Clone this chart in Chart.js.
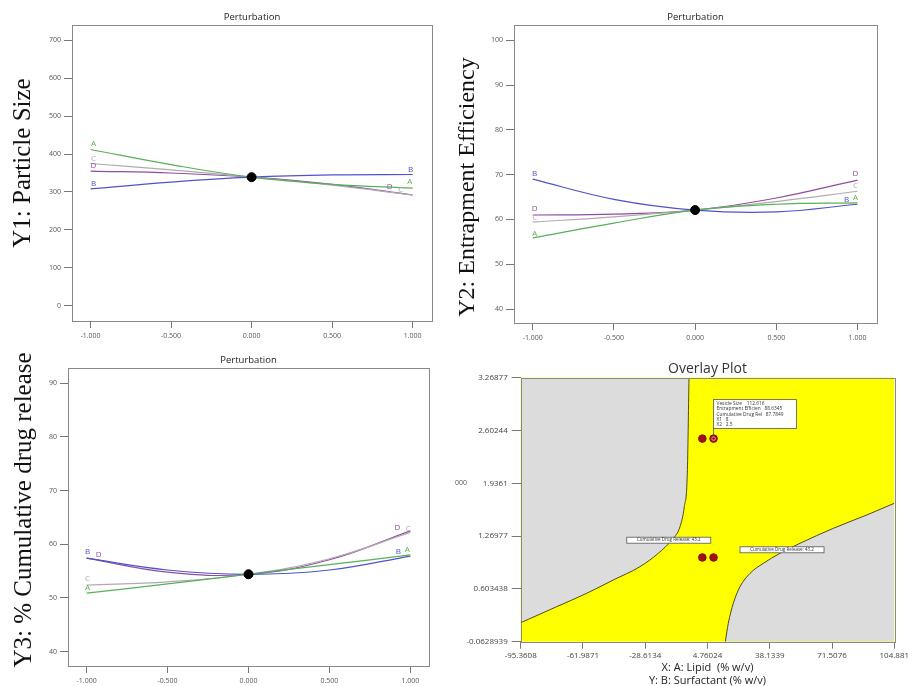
<!DOCTYPE html>
<html>
<head>
<meta charset="utf-8">
<script src="https://cdn.jsdelivr.net/npm/chart.js@4.4.1/dist/chart.umd.min.js"></script>
<style>
  html, body { margin: 0; padding: 0; background: #fff; }
  #page { position: relative; width: 909px; height: 686px; overflow: hidden; }
  canvas { position: absolute; }
  .ylab {
    position: absolute; white-space: nowrap; color: #111;
    font-family: 'Liberation Serif', 'Times New Roman', serif;
    transform: translate(-50%, -50%) rotate(-90deg);
  }
  .stray { position: absolute; font: 7px 'Open Sans', sans-serif; color: #555; }
</style>
</head>
<body>
<div id="page">
  <canvas id="c1" width="450" height="345" style="left:0;top:0"></canvas>
  <canvas id="c2" width="459" height="345" style="left:450px;top:0"></canvas>
  <canvas id="c3" width="450" height="346" style="left:0;top:340px"></canvas>
  <canvas id="c4" width="459" height="350" style="left:450px;top:340px"></canvas>
  <div class="ylab" style="left:22px;top:163px;font-size:25px">Y1: Particle Size</div>
  <div class="ylab" style="left:466px;top:187px;font-size:24px">Y2: Entrapment Efficiency</div>
  <div class="ylab" style="left:23px;top:510px;font-size:25px">Y3: % Cumulative drug release</div>
  <div class="stray" style="left:455px;top:478px">000</div>
</div>
<script>
// coded factor levels (deviation from reference point)
const xCoded = [-1, -0.5, 0, 0.5, 1];
const xTickVals = [-1, -0.5, 0, 0.5, 1];

// Y1: particle size
const y1A = [412, 372, 339, 320, 310];
const y1B = [308, 326, 339, 345, 346];
const y1C = [375, 358, 339, 318, 292];
const y1D = [355, 350, 339, 320, 292];
const y1Ref = 339;
const y1Ticks = [0, 100, 200, 300, 400, 500, 600, 700];

// Y2: entrapment efficiency
const y2A = [55.9, 59.2, 62.1, 63.4, 63.7];
const y2B = [69.0, 64.5, 62.1, 61.7, 63.4];
const y2C = [59.4, 60.6, 62.1, 64.0, 66.3];
const y2D = [61.0, 61.2, 62.1, 64.8, 68.8];
const y2Ref = 62.1;
const y2Ticks = [40, 50, 60, 70, 80, 90, 100];

// Y3: % cumulative drug release
const y3A = [50.9, 52.6, 54.4, 56.2, 58.0];
const y3B = [57.4, 55.2, 54.4, 55.2, 57.8];
const y3C = [52.4, 53.0, 54.4, 57.3, 62.2];
const y3D = [57.4, 54.8, 54.4, 57.1, 62.5];
const y3Ref = 54.4;
const y3Ticks = [40, 50, 60, 70, 80, 90];

// overlay plot
const ovXTicks = [-95.3608, -61.9871, -28.6134, 4.76024, 38.1339, 71.5076, 104.881];
const ovXLabels = ['-95.3608', '-61.9871', '-28.6134', '4.76024', '38.1339', '71.5076', '104.881'];
const ovYTicks = [-0.0628939, 0.603438, 1.26977, 1.9361, 2.60244, 3.26877];
const ovYLabels = ['-0.0628939', '0.603438', '1.26977', '1.9361', '2.60244', '3.26877'];
const leftEdgeX = [-95.36, -76.06, -59.98, -45.73, -31.42, -21.61, -14.43, -9.98, -7.67, -6.06, -5.15];
const leftEdgeY = [0.177, 0.379, 0.548, 0.716, 0.884, 1.053, 1.220, 1.388, 1.641, 2.062, 3.26877];
const rightEdgeX = [14.30, 15.91, 18.59, 22.18, 27.54, 34.67, 43.62, 54.34, 72.19, 90.09, 104.881];
const rightEdgeY = [-0.0629, 0.169, 0.422, 0.631, 0.800, 0.926, 1.053, 1.179, 1.368, 1.536, 1.684];
const designX = [2, 8, 2, 8];
const designY = [2.5, 2.5, 1, 1];
const flagLines = ['Vesicle Size    112.616', 'Entrapment Efficien   88.6345', 'Cumulative Drug Rel   87.7849', 'X1   8', 'X2   2.5'];
const contourText = 'Cumulative Drug Release: 43.2';
const contourX = [-16.0, 44.7];
const contourY = [1.218, 1.097];

const tickFont = {family: 'Open Sans', size: 7};
const tickColor = '#555';
const lineColors = {A: '#56b156', B: '#5252c8', C: '#b3a9b3', D: '#8e4e9e'};

// label offsets (px) at the left and right end of each curve
const labelOffsets = {
  c1: {A: [[3, -6], [-3, -6]], B: [[3, -5], [-2, -5]], C: [[3, -5], [-12, -5]], D: [[3, -5], [-23, -8]]},
  c2: {A: [[2, -4], [-2, -5]], B: [[2, -5], [-11, -5]], C: [[2, -4], [-2, -6]], D: [[2, -6], [-2, -6]]},
  c3: {A: [[1, -5], [-3, -5]], B: [[1, -6], [-12, -4]], C: [[1, -6], [-2, -4]], D: [[12, -3], [-13, -3]]}
};

const plotBox = {
  id: 'plotBox',
  beforeDraw(chart) {
    const a = chart.chartArea, ctx = chart.ctx;
    if (chart.$bg) {
      ctx.save();
      ctx.fillStyle = chart.$bg;
      ctx.fillRect(a.left, a.top, a.right - a.left, a.bottom - a.top);
      ctx.restore();
    }
  },
  afterDatasetsDraw(chart) {
    const a = chart.chartArea, ctx = chart.ctx;
    ctx.save();
    ctx.strokeStyle = '#888';
    ctx.lineWidth = 1;
    ctx.strokeRect(Math.round(a.left) + 0.5, Math.round(a.top) + 0.5,
      Math.round(a.right - a.left), Math.round(a.bottom - a.top));
    ctx.fillStyle = chart.$titleColor || '#222';
    ctx.font = chart.$titleFont;
    ctx.textAlign = 'center';
    ctx.textBaseline = 'middle';
    ctx.fillText(chart.$title, (a.left + a.right) / 2, chart.$titleY);
    ctx.restore();
  }
};

const endLabels = {
  id: 'endLabels',
  afterDatasetsDraw(chart) {
    const offs = labelOffsets[chart.canvas.id];
    if (!offs) return;
    const ctx = chart.ctx;
    ctx.save();
    ctx.font = '8px "Open Sans", sans-serif';
    ctx.textAlign = 'center';
    ctx.textBaseline = 'middle';
    chart.data.datasets.forEach((ds, i) => {
      const off = offs[ds.label];
      if (!off) return;
      const pts = chart.getDatasetMeta(i).data;
      const first = pts[0], last = pts[pts.length - 1];
      ctx.fillStyle = ds.borderColor;
      ctx.fillText(ds.label, first.x + off[0][0], first.y + off[0][1]);
      ctx.fillText(ds.label, last.x + off[1][0], last.y + off[1][1]);
    });
    ctx.restore();
  }
};

const fixSize = (prop, v) => s => {
  s[prop] = v;
  s.paddingLeft = s.paddingRight = s.paddingTop = s.paddingBottom = 0;
};

function perturbation(id, series, refY, yTicks, yMin, yMax, box) {
  const datasets = [{
    label: 'ref', data: [{x: 0, y: refY}], showLine: false,
    pointRadius: 4.5, backgroundColor: '#000', borderColor: '#000', order: -1
  }];
  ['A', 'B', 'C', 'D'].forEach(k => {
    datasets.push({
      label: k,
      data: xCoded.map((x, i) => ({x: x, y: series[k][i]})),
      borderColor: lineColors[k], borderWidth: 1.2,
      pointRadius: 0, tension: 0.4, fill: false
    });
  });
  const chart = new Chart(document.getElementById(id), {
    type: 'line',
    data: {datasets},
    options: {
      responsive: false, animation: false,
      layout: {padding: {left: 0, right: box.padRight, top: box.top, bottom: 0}},
      plugins: {legend: {display: false}, tooltip: {enabled: false}},
      scales: {
        x: {
          type: 'linear', min: -1.115, max: box.xMax,
          afterFit: fixSize('height', box.xHeight),
          afterBuildTicks: s => { s.ticks = xTickVals.map(v => ({value: v})); },
          ticks: {callback: v => v.toFixed(3), font: tickFont, color: tickColor, padding: 4, autoSkip: false, maxRotation: 0},
          grid: {drawOnChartArea: false, tickLength: 7, color: '#777'},
          border: {display: false}
        },
        y: {
          min: yMin, max: yMax,
          afterFit: fixSize('width', box.yWidth),
          afterBuildTicks: s => { s.ticks = yTicks.map(v => ({value: v})); },
          ticks: {font: tickFont, color: tickColor, padding: 3},
          grid: {drawOnChartArea: false, tickLength: 8, color: '#777'},
          border: {display: false}
        }
      }
    },
    plugins: [plotBox, endLabels]
  });
  chart.$title = 'Perturbation';
  chart.$titleFont = '9.5px "Open Sans", sans-serif';
  chart.$titleY = box.titleY;
  chart.draw();
  return chart;
}

perturbation('c1', {A: y1A, B: y1B, C: y1C, D: y1D}, y1Ref, y1Ticks, -40, 740,
  {padRight: 18, top: 25, yWidth: 72, xHeight: 24, xMax: 1.12, titleY: 17.7});
perturbation('c2', {A: y2A, B: y2B, C: y2C, D: y2D}, y2Ref, y2Ticks, 36.9, 103.4,
  {padRight: 32, top: 25, yWidth: 64, xHeight: 22, xMax: 1.12, titleY: 17.7});
perturbation('c3', {A: y3A, B: y3B, C: y3C, D: y3D}, y3Ref, y3Ticks, 37.3, 92.8,
  {padRight: 21, top: 28.3, yWidth: 68, xHeight: 20, xMax: 1.115, titleY: 20.7});

// overlay annotations: contour labels and the flag of the selected point
const overlayNotes = {
  id: 'overlayNotes',
  afterDatasetsDraw(chart) {
    const {ctx, scales: {x, y}} = chart;
    ctx.save();
    ctx.font = '4.5px "Open Sans", sans-serif';
    ctx.textBaseline = 'middle';
    contourX.forEach((v, i) => {
      const px = x.getPixelForValue(v), py = y.getPixelForValue(contourY[i]);
      const w = 84, h = 6;
      ctx.fillStyle = '#fff';
      ctx.fillRect(px - w / 2, py - h / 2, w, h);
      ctx.strokeStyle = '#555';
      ctx.lineWidth = 0.8;
      ctx.strokeRect(px - w / 2, py - h / 2, w, h);
      ctx.fillStyle = '#333';
      ctx.textAlign = 'center';
      ctx.fillText(contourText, px, py);
    });
    const fx = x.getPixelForValue(designX[1]), fy = y.getPixelForValue(designY[1]);
    const bw = 83, bh = 29, bTop = fy - 10 - bh;
    ctx.strokeStyle = '#555';
    ctx.lineWidth = 0.8;
    ctx.beginPath();
    ctx.moveTo(fx, fy - 10);
    ctx.lineTo(fx, fy - 3);
    ctx.stroke();
    ctx.fillStyle = '#fff';
    ctx.fillRect(fx, bTop, bw, bh);
    ctx.strokeRect(fx, bTop, bw, bh);
    ctx.font = '4.8px "Open Sans", sans-serif';
    ctx.textAlign = 'left';
    ctx.fillStyle = '#333';
    flagLines.forEach((t, i) => ctx.fillText(t, fx + 3, bTop + 4 + i * 5.3));
    ctx.restore();
  }
};

const ovChart = new Chart(document.getElementById('c4'), {
  type: 'scatter',
  data: {
    datasets: [
      {
        label: 'design', data: designX.map((v, i) => ({x: v, y: designY[i]})),
        pointRadius: 3.8, backgroundColor: '#a01010', borderColor: '#8a0a0a', order: -2
      },
      {
        label: 'selected', data: [{x: designX[1], y: designY[1]}],
        pointRadius: 1.8, backgroundColor: 'rgba(0,0,0,0)', borderColor: '#e3a3a3', borderWidth: 1, order: -3
      },
      {
        label: 'left limit', data: leftEdgeX.map((v, i) => ({x: v, y: leftEdgeY[i]})),
        showLine: true, pointRadius: 0, borderColor: '#4d4d1a', borderWidth: 1,
        backgroundColor: '#dcdcdc', fill: 'end', cubicInterpolationMode: 'monotone'
      },
      {
        label: 'right limit', data: rightEdgeX.map((v, i) => ({x: v, y: rightEdgeY[i]})),
        showLine: true, pointRadius: 0, borderColor: '#4d4d1a', borderWidth: 1,
        backgroundColor: '#dcdcdc', fill: 'start', cubicInterpolationMode: 'monotone'
      }
    ]
  },
  options: {
    responsive: false, animation: false,
    layout: {padding: {left: 0, right: 14.7, top: 37.7, bottom: 0}},
    plugins: {legend: {display: false}, tooltip: {enabled: false}},
    scales: {
      x: {
        type: 'linear', min: ovXTicks[0], max: ovXTicks[ovXTicks.length - 1],
        afterFit: fixSize('height', 48.3),
        afterBuildTicks: s => { s.ticks = ovXTicks.map(v => ({value: v})); },
        ticks: {callback: (v, i) => ovXLabels[i], font: {family: 'Open Sans', size: 8}, color: '#444', padding: 2, autoSkip: false, maxRotation: 0},
        grid: {drawOnChartArea: false, tickLength: 7, color: '#777'},
        border: {display: false},
        title: {
          display: true, text: ['X: A: Lipid  (% w/v)', 'Y: B: Surfactant (% w/v)'],
          color: '#222', font: {family: 'Open Sans', size: 11}, padding: {top: 0, bottom: 2.4}
        }
      },
      y: {
        min: ovYTicks[0], max: ovYTicks[ovYTicks.length - 1],
        afterFit: fixSize('width', 70.7),
        afterBuildTicks: s => { s.ticks = ovYTicks.map(v => ({value: v})); },
        ticks: {callback: (v, i) => ovYLabels[i], font: {family: 'Open Sans', size: 8}, color: '#444', padding: 4},
        grid: {drawOnChartArea: false, tickLength: 9, color: '#777'},
        border: {display: false}
      }
    }
  },
  plugins: [plotBox, overlayNotes]
});
ovChart.$bg = '#ffff00';
ovChart.$title = 'Overlay Plot';
ovChart.$titleFont = '14px "Open Sans", sans-serif';
ovChart.$titleColor = '#333';
ovChart.$titleY = 29;
ovChart.draw();
</script>
</body>
</html>
